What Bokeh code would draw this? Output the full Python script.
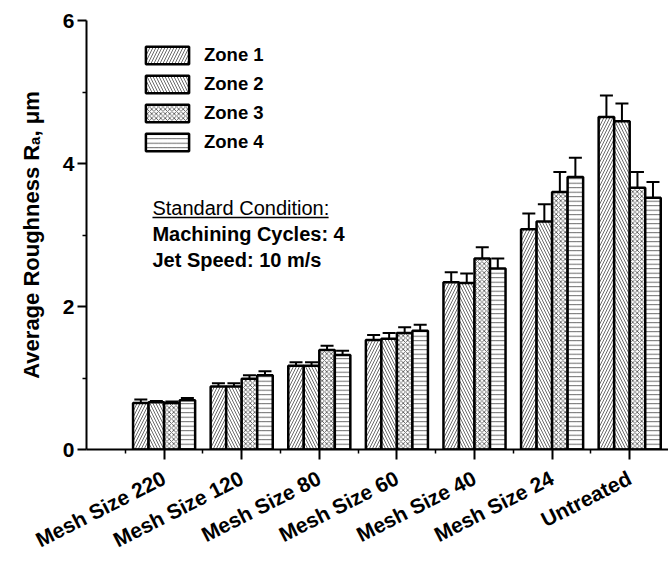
from bokeh.plotting import figure
from bokeh.models import (Range1d, FixedTicker, ColumnDataSource, Whisker, TeeHead,
                          Legend, LegendItem, Label, BoxAnnotation)
from bokeh.embed import file_html
from bokeh.resources import INLINE

categories = ["Mesh Size 220", "Mesh Size 120", "Mesh Size 80", "Mesh Size 60",
              "Mesh Size 40", "Mesh Size 24", "Untreated"]
zones = ["Zone 1", "Zone 2", "Zone 3", "Zone 4"]
zone1 = [0.65, 0.88, 1.17, 1.53, 2.34, 3.08, 4.65]
zone2 = [0.66, 0.88, 1.17, 1.55, 2.33, 3.19, 4.59]
zone3 = [0.65, 0.99, 1.39, 1.63, 2.67, 3.60, 3.66]
zone4 = [0.69, 1.04, 1.32, 1.66, 2.53, 3.81, 3.52]
err1 = [0.05, 0.045, 0.05, 0.07, 0.14, 0.22, 0.30]
err2 = [0.02, 0.045, 0.05, 0.08, 0.13, 0.24, 0.25]
err3 = [0.02, 0.05, 0.06, 0.08, 0.16, 0.28, 0.22]
err4 = [0.03, 0.055, 0.06, 0.085, 0.14, 0.27, 0.22]
y_ticks = [0, 2, 4, 6]
y_minor = [1, 3, 5]

values = [zone1, zone2, zone3, zone4]
errors = [err1, err2, err3, err4]
patterns = ["right_diagonal_line", "left_diagonal_line", "diagonal_cross", "horizontal_line"]
scales = [6, 6, 4.5, 4.5]
offsets = [-0.3, -0.1, 0.1, 0.3]

FONT = "Liberation Sans"

p = figure(width=668, height=564, output_backend="svg", toolbar_location=None,
           x_range=Range1d(0, 7.5), y_range=Range1d(0, 6),
           min_border_left=86, min_border_right=0, min_border_top=20, min_border_bottom=114)
p.outline_line_color = None
p.grid.visible = False
p.background_fill_color = "white"
p.border_fill_color = "white"

items = []
for i in range(4):
    xs = [k + 1 + offsets[i] for k in range(len(categories))]
    src = ColumnDataSource(dict(x=xs, top=values[i],
                                upper=[v + e for v, e in zip(values[i], errors[i])],
                                lower=[v - e for v, e in zip(values[i], errors[i])]))
    r = p.vbar(x="x", top="top", width=0.2, bottom=0, source=src,
               fill_color="white", line_color="black", line_width=2.5,
               hatch_pattern=patterns[i], hatch_scale=scales[i],
               hatch_color="#444444", hatch_weight=0.8)
    items.append(LegendItem(label=zones[i], renderers=[r]))
    w = Whisker(base="x", upper="upper", lower="lower", source=src,
                line_color="black", line_width=2,
                upper_head=TeeHead(size=13, line_width=2, line_color="black"),
                lower_head=TeeHead(size=13, line_width=2, line_color="black"))
    p.add_layout(w)

legend = Legend(items=items, location=(54, 296), padding=0, spacing=7, margin=0,
                glyph_width=54, glyph_height=22, label_standoff=10,
                border_line_color=None, background_fill_alpha=0,
                label_text_font=FONT, label_text_font_style="bold",
                label_text_font_size="18.5px", label_height=22,
                label_text_color="black")
p.add_layout(legend)

# x axis
xa = p.xaxis[0]
xa.ticker = FixedTicker(ticks=list(range(1, len(categories) + 1)),
                        minor_ticks=[k + 0.5 for k in range(len(categories))])
xa.major_label_overrides = {k + 1: c for k, c in enumerate(categories)}
xa.major_label_orientation = 0.47
xa.major_label_text_font = FONT
xa.major_label_text_font_style = "bold"
xa.major_label_text_font_size = "21px"
xa.major_label_text_color = "black"
xa.major_label_standoff = 17
xa.axis_line_width = 2
xa.axis_line_color = "black"
xa.major_tick_line_width = 2
xa.major_tick_line_color = "black"
xa.minor_tick_line_width = 1.5
xa.minor_tick_line_color = "black"
xa.major_tick_out = 10
xa.major_tick_in = 0
xa.minor_tick_out = 4
xa.minor_tick_in = 0

ya = p.yaxis[0]
ya.ticker = FixedTicker(ticks=y_ticks, minor_ticks=y_minor)
ya.major_label_text_font = FONT
ya.major_label_text_font_style = "bold"
ya.major_label_text_font_size = "21px"
ya.major_label_text_color = "black"
ya.major_label_standoff = 3
ya.axis_line_width = 2
ya.axis_line_color = "black"
ya.major_tick_line_width = 2
ya.major_tick_line_color = "black"
ya.minor_tick_line_width = 1.5
ya.minor_tick_line_color = "black"
ya.major_tick_out = 9
ya.major_tick_in = 0
ya.minor_tick_out = 4
ya.minor_tick_in = 0
ya.axis_label = "Average Roughness R\u2090, \u03bcm"
ya.axis_label_text_font = FONT
ya.axis_label_text_font_style = "bold"
ya.axis_label_text_font_size = "22px"
ya.axis_label_text_color = "black"
ya.axis_label_standoff = 16

# annotation text block
p.add_layout(Label(x=0.85, y=3.375, text="Standard Condition:", text_font=FONT,
                   text_font_size="20px", text_color="black", text_baseline="alphabetic"))
p.add_layout(Label(x=0.85, y=3.015, text="Machining Cycles: 4", text_font=FONT,
                   text_font_style="bold", text_font_size="20px", text_color="black",
                   text_baseline="alphabetic"))
p.add_layout(Label(x=0.85, y=2.655, text="Jet Speed: 10 m/s", text_font=FONT,
                   text_font_style="bold", text_font_size="20px", text_color="black",
                   text_baseline="alphabetic"))
p.add_layout(BoxAnnotation(left=0.85, right=3.12, bottom=3.236, top=3.256,
                           fill_color="black", fill_alpha=1, line_color=None))

open("out.html", "w").write(file_html(p, INLINE))
